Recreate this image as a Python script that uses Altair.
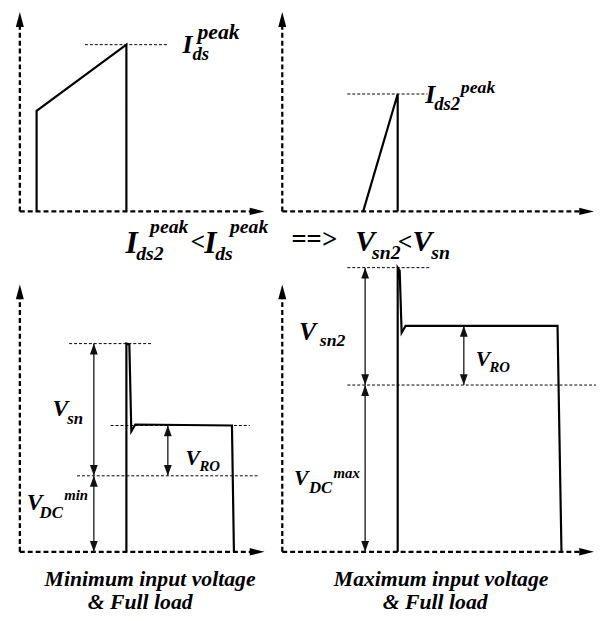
import altair as alt
import pandas as pd

# ---------------- data (diagram units = reference pixels) ----------------
# waveforms: panel, x, y
wave_panel = ["TL"] * 4 + ["TR"] * 3 + ["BL"] * 7 + ["BR"] * 7
wave_x = [37, 37, 128, 128,
          368, 403, 403,
          128, 128, 131, 133, 137, 235, 237,
          403, 403, 405, 407, 411, 565, 569]
wave_y = [210, 108, 41, 210,
          210, 91, 210,
          555, 344, 345, 433, 426, 427, 555,
          555, 267, 270, 333, 326, 326, 555]

# axes (dashed): x, y, x2, y2
axis_x = [20, 20, 286, 286, 20, 20, 286, 286]
axis_y = [210, 210, 210, 210, 555, 555, 555, 555]
axis_x2 = [20, 254, 286, 588, 20, 254, 286, 588]
axis_y2 = [22, 210, 22, 210, 298, 555, 298, 555]

# axis arrow tips
up_tip_x = [20, 286, 20, 286]
up_tip_y = [8, 8, 284, 284]
right_tip_x = [268, 602, 268, 602]
right_tip_y = [210, 210, 555, 555]

# dashed guide lines: y, x from, x to
guide_y = [41, 91, 344, 427, 478, 267, 386]
guide_x = [86, 352, 70, 112, 78, 352, 352]
guide_x2 = [170, 433, 153, 253, 262, 437, 604]

# dimension arrows: x, y top, y bottom
dim_x = [95, 95, 170, 370, 370, 470]
dim_top = [344, 478, 427, 267, 386, 326]
dim_bot = [478, 555, 478, 386, 555, 386]

# labels: text, x (left), y (baseline), font size
lab_text = ["I", "ds", "peak",
            "I", "ds2", "peak",
            "I", "ds2", "peak", "<", "I", "ds", "peak", "==>",
            "V", "sn2", "<", "V", "sn",
            "V", "sn", "V", "RO", "V", "DC", "min",
            "V", "sn2", "V", "RO", "V", "DC", "max"]
lab_x = [185, 195, 200,
         431, 440, 467,
         127, 138, 152, 193, 207, 218, 233, 295,
         360, 377, 403, 418, 437,
         53, 68, 188, 202, 27, 40, 65,
         303, 324, 482, 496, 298, 313, 338]
lab_y = [49, 57, 35,
         100, 107, 90,
         252, 259, 232, 249, 252, 259, 232, 247,
         250, 258, 249, 250, 258,
         417, 425, 467, 473, 513, 521, 503,
         340, 346, 367, 373, 487, 495, 480]
lab_size = [26, 19, 22,
            26, 19, 18,
            32, 20, 20, 26, 32, 20, 20, 27,
            30, 20, 26, 30, 20,
            24, 17, 22, 15, 24, 17, 15,
            26, 18, 22, 15, 22, 17, 15]

# captions: text, center x, baseline y
cap_text = ["Minimum input voltage", "& Full load",
            "Maximum input voltage", "& Full load"]
cap_x = [152, 142, 447, 441]
cap_y = [590, 613, 590, 613]

# ---------------- chart ----------------
FONT = "Liberation Serif"
W, H = 596, 613
xs = alt.Scale(domain=[8, 8 + W], nice=False, zero=False)
ys = alt.Scale(domain=[8, 8 + H], nice=False, zero=False, reverse=True)


def X(f="x"):
    return alt.X(f + ":Q", scale=xs, axis=None)


def Y(f="y"):
    return alt.Y(f + ":Q", scale=ys, axis=None)


wave_df = pd.DataFrame({"panel": wave_panel, "x": wave_x, "y": wave_y,
                        "i": list(range(len(wave_x)))})
axis_df = pd.DataFrame({"x": axis_x, "y": axis_y, "x2": axis_x2, "y2": axis_y2})
up_df = pd.DataFrame({"x": up_tip_x, "y": up_tip_y})
right_df = pd.DataFrame({"x": right_tip_x, "y": right_tip_y})
guide_df = pd.DataFrame({"y": guide_y, "x": guide_x, "x2": guide_x2})
dim_df = pd.DataFrame({"x": dim_x, "y": dim_top, "y2": dim_bot})
dim_up_df = pd.DataFrame({"x": dim_x, "y": dim_top})
dim_dn_df = pd.DataFrame({"x": dim_x, "y": dim_bot})
lab_df = pd.DataFrame({"t": lab_text, "x": lab_x, "y": lab_y, "fs": lab_size})
cap_df = pd.DataFrame({"t": cap_text, "x": cap_x, "y": cap_y})

waves = alt.Chart(wave_df).mark_line(color="black", strokeWidth=2.2,
                                     strokeJoin="miter").encode(
    x=X(), y=Y(), detail="panel:N", order="i:Q")

axes = alt.Chart(axis_df).mark_rule(color="black", strokeWidth=2.3,
                                    strokeDash=[5, 3]).encode(
    x=X(), y=Y(), x2="x2:Q", y2="y2:Q")

up_heads = alt.Chart(up_df).mark_point(
    shape="M0,0L0.27,1L-0.27,1Z", size=900, filled=True, color="black",
    opacity=1, strokeWidth=0).encode(x=X(), y=Y())

right_heads = alt.Chart(right_df).mark_point(
    shape="M0,0L-1,0.25L-1,-0.25Z", size=900, filled=True, color="black",
    opacity=1, strokeWidth=0).encode(x=X(), y=Y())

guides = alt.Chart(guide_df).mark_rule(color="black", strokeWidth=1,
                                       strokeDash=[3, 2]).encode(
    x=X(), x2="x2:Q", y=Y())

dims = alt.Chart(dim_df).mark_rule(color="#333333", strokeWidth=1.5).encode(
    x=X(), y=Y(), y2="y2:Q")

dim_up = alt.Chart(dim_up_df).mark_point(
    shape="M0,0L0.36,1L-0.36,1Z", size=484, filled=True, color="#111111",
    opacity=1, strokeWidth=0).encode(x=X(), y=Y())

dim_dn = alt.Chart(dim_dn_df).mark_point(
    shape="M0,0L0.36,-1L-0.36,-1Z", size=484, filled=True, color="#111111",
    opacity=1, strokeWidth=0).encode(x=X(), y=Y())

labels = alt.Chart(lab_df).mark_text(
    font=FONT, fontStyle="italic", fontWeight="bold",
    align="left", baseline="alphabetic", color="black").encode(
    x=X(), y=Y(), text="t:N", size=alt.Size("fs:Q", scale=None))

captions = alt.Chart(cap_df).mark_text(
    font=FONT, fontStyle="italic", fontWeight="bold",
    align="center", baseline="alphabetic", color="black", fontSize=22).encode(
    x=X(), y=Y(), text="t:N")

chart = alt.layer(axes, guides, dims, waves, up_heads, right_heads,
                  dim_up, dim_dn, labels, captions).properties(
    width=W, height=H, padding=0, autosize="none",
    background="white").configure_view(stroke=None)

chart.save("out.html", embed_options={"renderer": "svg", "actions": False})
